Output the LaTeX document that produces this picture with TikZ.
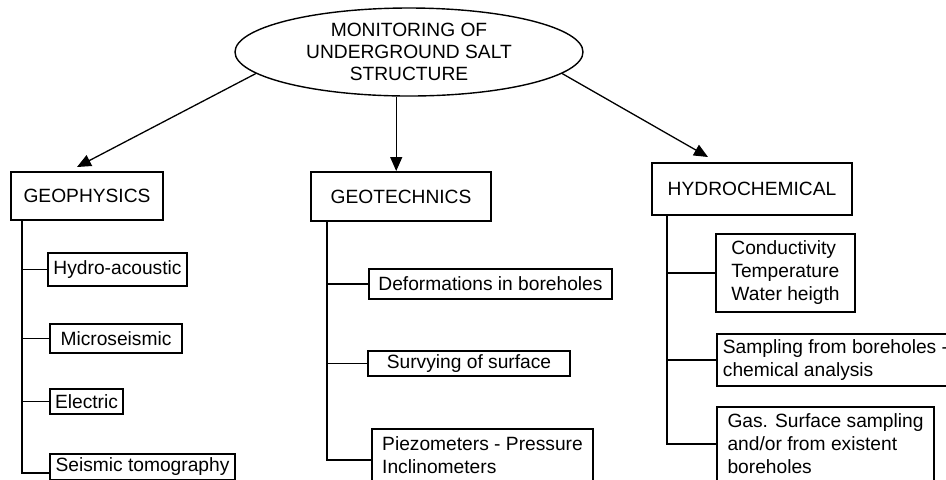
\documentclass[tikz,border=0pt]{standalone}
\usepackage{fontspec}
\setmainfont{Liberation Sans}
\usetikzlibrary{shapes.geometric, arrows.meta, positioning, calc}

\begin{document}
\begin{tikzpicture}[x=0.5pt,y=-0.5pt,
    box/.style={rectangle,draw,line width=1pt,inner sep=1pt,align=left,font=\fontsize{9.6}{11.5}\selectfont},
    flow/.style={-{Triangle[length=7pt,width=6pt]},line width=0.65pt},
    tree/.style={line width=0.9pt}]
    \clip (0,0) rectangle (946,479);

    % Titolo
    \node[ellipse,draw,line width=0.7pt,inner sep=0pt,minimum width=174pt,minimum height=44pt,align=center,font=\fontsize{9.6}{10.85}\selectfont] (title) at (409,52) {MONITORING OF\\UNDERGROUND SALT\\STRUCTURE};

    % Gruppi principali
    \node[box,minimum width=76pt,minimum height=24pt] (geophys) at (87,196) {GEOPHYSICS};
    \node[box,minimum width=90pt,minimum height=24.5pt] (geotech) at (401,196.5) {GEOTECHNICS};
    \node[box,minimum width=100pt,minimum height=26pt] (hydro) at (752,189) {HYDROCHEMICAL};

    \draw[flow] (title.188) -- ($(geophys.north)+(-10,-4)$);
    \draw[flow] (title.254) -- (title.254 |- geotech.north);
    \draw[flow] (title.-8) -- ($(hydro.north)+(-44,-5)$);

    % Geophysics
    \node[box,minimum width=69.5pt,minimum height=16.5pt] (hydroac) at (117.5,269.5) {Hydro-acoustic};
    \node[box,minimum width=66pt,minimum height=14.5pt] (microseis) at (116,338.5) {Microseismic};
    \node[box,minimum width=36.5pt,minimum height=12.5pt] (electric) at (86.5,401.5) {Electric};
    \node[box,minimum width=92.5pt,minimum height=13pt] (seistomo) at (142.5,467) {Seismic tomography};

    \coordinate (gpspine) at ($(geophys.south west)+(12,0)$);
    \foreach \b in {hydroac,microseis,electric}
        \draw[tree] (gpspine) |- (\b.west);
    \draw[tree] (gpspine) |- ($(seistomo.west)+(0,6)$);

    % Geotechnics
    \node[box,minimum width=121.5pt,minimum height=15pt] (deform) at (490.5,284) {Deformations in boreholes};
    \node[box,minimum width=101pt,minimum height=12.5pt] (survey) at (469,363.5) {Survying of surface};
    \node[box,minimum width=110.5pt,minimum height=26pt] (piezo) at (482.5,455) {Piezometers - Pressure\\Inclinometers};

    \coordinate (gtspine) at ($(geotech.south west)+(17,0)$);
    \foreach \b in {deform,survey}
        \draw[tree] (gtspine) |- (\b.west);
    \draw[tree] (gtspine) |- ($(piezo.west)+(0,5)$);

    % Hydrochemical
    \node[box,minimum width=69.5pt,minimum height=39pt] (conduct) at (785.5,273) {Conductivity\\Temperature\\Water heigth};
    \node[box,minimum width=118.5pt,minimum height=26pt] (sampling) at (835.5,360) {Sampling from boreholes -\\chemical analysis};
    \node[box,minimum width=108.5pt,minimum height=37pt] (gas) at (825.5,444) {Gas. Surface sampling\\and/or from existent\\boreholes};

    \coordinate (hcspine) at ($(hydro.south west)+(16,0)$);
    \foreach \b in {conduct,sampling,gas}
        \draw[tree] (hcspine) |- (\b.west);
\end{tikzpicture}
\end{document}
